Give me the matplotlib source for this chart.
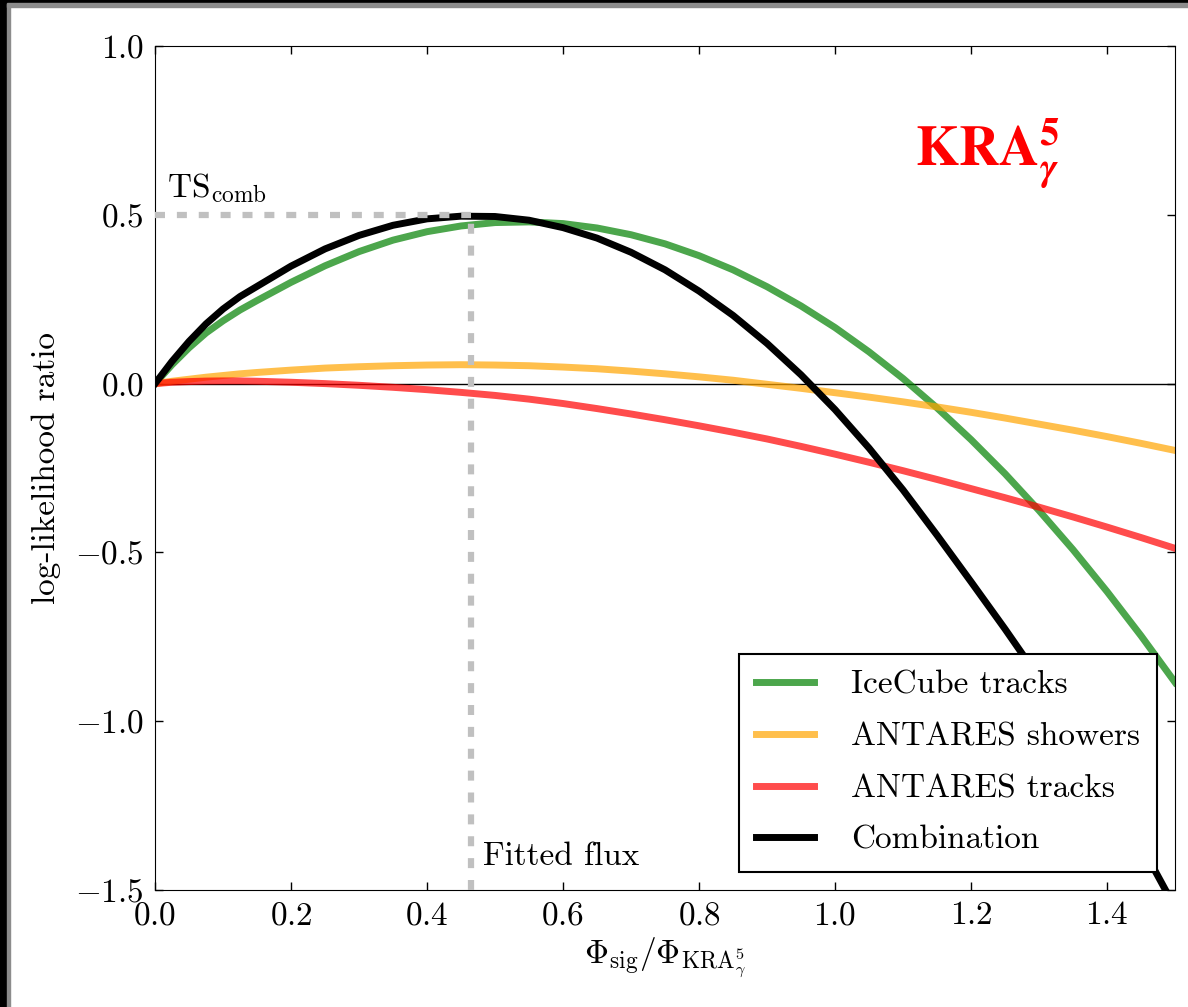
import numpy as np
import matplotlib
matplotlib.use("Agg")
import matplotlib.pyplot as plt
from matplotlib.patches import Rectangle

# Werte
phi = [0.000, 0.025, 0.050, 0.075, 0.100, 0.125, 0.150,
       0.20, 0.25, 0.30, 0.35, 0.40, 0.45, 0.50, 0.55, 0.60, 0.65, 0.70, 0.75,
       0.80, 0.85, 0.90, 0.95, 1.00, 1.05, 1.10, 1.15, 1.20, 1.25, 1.30, 1.35, 1.40, 1.45, 1.50]

icecube_tracks = [0.000, 0.056, 0.106, 0.150, 0.186, 0.218, 0.246,
                  0.300, 0.349, 0.391, 0.425, 0.450, 0.467, 0.477, 0.479, 0.474, 0.461, 0.441, 0.414,
                  0.379, 0.337, 0.287, 0.230, 0.166, 0.094, 0.015, -0.072, -0.166, -0.267, -0.376,
                  -0.492, -0.616, -0.747, -0.885]

antares_showers = [0.000, 0.007, 0.013, 0.019, 0.024, 0.029, 0.033,
                   0.040, 0.046, 0.050, 0.053, 0.055, 0.056, 0.055, 0.053, 0.049, 0.044, 0.037, 0.029,
                   0.020, 0.010, -0.002, -0.014, -0.027, -0.040, -0.054, -0.069, -0.085, -0.102, -0.120,
                   -0.138, -0.157, -0.177, -0.198]

antares_tracks = [0.000, 0.004, 0.006, 0.0075, 0.008, 0.008, 0.007,
                  0.004, 0.000, -0.005, -0.011, -0.018, -0.026, -0.035, -0.046, -0.059, -0.074, -0.090, -0.107,
                  -0.125, -0.144, -0.164, -0.186, -0.209, -0.233, -0.258, -0.284, -0.311, -0.338, -0.366,
                  -0.395, -0.425, -0.456, -0.488]

combination = [0.000, 0.066, 0.125, 0.177, 0.221, 0.258, 0.288,
               0.348, 0.399, 0.439, 0.469, 0.488, 0.496, 0.495, 0.484, 0.462, 0.431, 0.389, 0.337,
               0.274, 0.202, 0.119, 0.026, -0.077, -0.191, -0.315, -0.449, -0.587, -0.727, -0.872,
               -1.027, -1.192, -1.367, -1.552]

fitted_flux = 0.465
ts_comb = 0.5

labels = ['IceCube tracks', 'ANTARES showers', 'ANTARES tracks', 'Combination']

plt.rcParams['font.family'] = 'serif'
plt.rcParams['font.serif'] = ['cmr10']
plt.rcParams['mathtext.fontset'] = 'cm'
plt.rcParams['axes.formatter.use_mathtext'] = True
plt.rcParams['font.size'] = 24

fig = plt.figure(figsize=(11.88, 10.07), dpi=100)
ax = fig.add_axes([0.1305, 0.1162, 0.8586, 0.8381])

lw = 5
ax.axhline(0, color='k', lw=1, zorder=1)
ax.plot(phi, icecube_tracks, color='green', alpha=0.7, lw=lw, label=labels[0], solid_joinstyle='round')
ax.plot(phi, antares_showers, color='orange', alpha=0.7, lw=lw, label=labels[1], solid_joinstyle='round')
ax.plot(phi, antares_tracks, color='red', alpha=0.7, lw=lw, label=labels[2], solid_joinstyle='round')
ax.plot(phi, combination, color='black', lw=lw, label=labels[3], solid_joinstyle='round')

# gestrichelte Hilfslinien
ax.plot([0, fitted_flux], [ts_comb, ts_comb], color='#c0c0c0', lw=4.5, dashes=(1.6, 1.9), zorder=5)
ax.plot([fitted_flux, fitted_flux], [-1.5, ts_comb], color='#c0c0c0', lw=4.5, dashes=(1.6, 1.9), zorder=5)

ax.text(0.018, 0.553, r'$\mathrm{TS}_{\mathrm{comb}}$', fontsize=24)
ax.text(0.482, -1.426, 'Fitted flux', fontsize=24)
ax.text(1.118, 0.647, r'$\mathbf{KRA}^{\mathbf{5}}_{\boldsymbol{\gamma}}$', color='red',
        fontsize=40, math_fontfamily='stix')

ax.set_xlim(0, 1.5)
ax.set_ylim(-1.5, 1.0)
ax.set_xticks(np.arange(0, 1.41, 0.2))
ax.set_yticks(np.arange(-1.5, 1.01, 0.5))
ax.tick_params(direction='in', top=True, right=True, length=6, width=1, pad=8, labelsize=24)
ax.set_xlabel(r'$\Phi_{\mathrm{sig}}/\Phi_{\mathrm{KRA}_\gamma^5}$', fontsize=24, labelpad=4)
ax.set_ylabel('log-likelihood ratio', fontsize=24, labelpad=10)

leg = ax.legend(loc='lower right', fontsize=24, fancybox=False, framealpha=1,
                edgecolor='black', handlelength=1.75, handletextpad=1.1,
                borderaxespad=0.55, labelspacing=0.67, borderpad=0.5)
leg.get_frame().set_linewidth(1.5)

# dunkler Rahmen oben und links
fig.patches.append(Rectangle((0, 0), 7 / 1188, 1, transform=fig.transFigure, color='black'))
fig.patches.append(Rectangle((7 / 1188, 0), 3 / 1188, 1, transform=fig.transFigure, color='0.55'))
fig.patches.append(Rectangle((0, 1 - 3 / 1007), 1, 3 / 1007, transform=fig.transFigure, color='black'))
fig.patches.append(Rectangle((7 / 1188, 1 - 7 / 1007), 1, 4 / 1007, transform=fig.transFigure, color='0.55'))

fig.savefig('out.png', dpi=100)
